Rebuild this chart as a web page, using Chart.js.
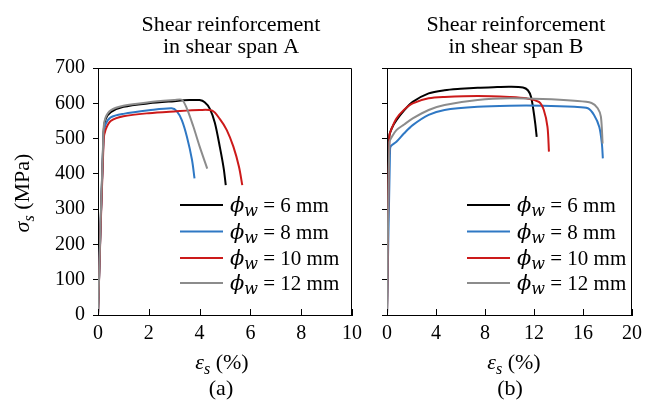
<!DOCTYPE html>
<html>
<head>
<meta charset="utf-8">
<script src="https://cdn.jsdelivr.net/npm/chart.js@4.4.1/dist/chart.umd.min.js"></script>
<style>
    html, body { margin: 0; padding: 0; background: #fff; }
    #wrapA { position: absolute; left: 0; top: 0; width: 370px; height: 413px; }
    #wrapB { position: absolute; left: 360px; top: 0; width: 289px; height: 413px; }
</style>
</head>
<body>
<div id="wrapA"><canvas id="chartA"></canvas></div>
<div id="wrapB"><canvas id="chartB"></canvas></div>
<script>
// Legend labels (bar diameter)
const diameters = ['6 mm', '8 mm', '10 mm', '12 mm'];
const lineColors = ['#000000', '#2f78c4', '#cc1a1a', '#8c8c8c'];

// Tick values
const stressTicks = [0, 100, 200, 300, 400, 500, 600, 700];
const strainTicksA = [0, 2, 4, 6, 8, 10];
const strainTicksB = [0, 4, 8, 12, 16, 20];

// Panel (a) - shear span A, strain (%) / stress (MPa)
const strainA6 = [0, 0.22, 0.3, 0.5, 1.0, 2.0, 3.0, 3.6, 4.0, 4.2, 4.4, 4.6, 4.8, 4.95, 5.03];
const stressA6 = [0, 520, 555, 575, 590, 600, 606, 609, 609, 603, 585, 545, 475, 415, 368];
const strainA8 = [0, 0.22, 0.3, 0.5, 1.0, 2.0, 2.9, 3.1, 3.3, 3.5, 3.7, 3.8];
const stressA8 = [0, 510, 540, 560, 570, 580, 586, 578, 552, 505, 440, 387];
const strainA10 = [0, 0.22, 0.3, 0.5, 1.0, 2.0, 3.0, 4.0, 4.5, 4.8, 5.07, 5.33, 5.55, 5.68];
const stressA10 = [0, 495, 525, 550, 563, 572, 577, 581, 579, 555, 524, 477, 420, 368];
const strainA12 = [0, 0.22, 0.3, 0.5, 1.0, 2.0, 3.0, 3.3, 3.5, 3.75, 4.0, 4.3];
const stressA12 = [0, 530, 560, 580, 593, 603, 609, 610, 585, 535, 478, 415];

// Panel (b) - shear span B
const strainB6 = [0, 0.18, 0.4, 0.77, 1.4, 2.1, 3.4, 4.7, 6, 7.4, 9, 10, 11.1, 11.5, 11.76, 11.95, 12.1, 12.22];
const stressB6 = [0, 505, 530, 552, 580, 604, 628, 637, 641, 644, 646, 647, 645, 637, 618, 581, 543, 505];
const strainB8 = [0, 0.25, 0.32, 0.77, 1.4, 2.1, 3.4, 4.7, 7.4, 10, 12.7, 15.3, 16.4, 16.9, 17.33, 17.54, 17.62];
const stressB8 = [0, 470, 479, 491, 515, 538, 567, 581, 590, 593, 593, 590, 586, 567, 533, 486, 444];
const strainB10 = [0, 0.2, 0.4, 0.77, 1.4, 2.1, 3.4, 4.7, 7.4, 10, 11.4, 12.4, 12.8, 13.1, 13.22];
const stressB10 = [0, 509, 530, 557, 582, 600, 614, 618, 621, 618, 614, 604, 581, 533, 463];
const strainB12 = [0, 0.2, 0.4, 0.77, 1.4, 2.1, 3.4, 4.7, 7.4, 10, 12.7, 15.3, 16.7, 17.2, 17.46, 17.6];
const stressB12 = [0, 490, 505, 524, 540, 557, 581, 595, 609, 614, 612, 607, 601, 586, 562, 486];

const SERIF = '"Liberation Serif", "Times New Roman", serif';
const MATH = '"DejaVu Serif", "Liberation Serif", serif';

function toPoints(xs, ys) {
    return xs.map((x, i) => ({ x: x, y: ys[i] }));
}

function makeDatasets(series) {
    return series.map((s, i) => ({
        label: diameters[i],
        data: toPoints(s[0], s[1]),
        borderColor: lineColors[i],
        borderWidth: 2,
        pointRadius: 0,
        showLine: true,
        tension: 0.3,
        fill: false,
        order: 3 - i
    }));
}

function partFont(p) {
    return (p.italic ? 'italic ' : '') + p.size + 'px ' + (p.family || SERIF);
}

// draws a run of text pieces (italic / subscript) starting at x
function richWidth(ctx, parts) {
    let w = 0;
    parts.forEach(p => {
        ctx.font = partFont(p);
        w += ctx.measureText(p.t).width;
    });
    return w;
}

function drawRich(ctx, x, y, parts) {
    ctx.textAlign = 'left';
    ctx.textBaseline = 'alphabetic';
    parts.forEach(p => {
        ctx.font = partFont(p);
        ctx.fillText(p.t, x, y + (p.dy || 0));
        x += ctx.measureText(p.t).width;
    });
}

// frame, inward x ticks, titles and legend
const panelDecor = {
    id: 'panelDecor',
    afterDatasetsDraw(chart, args, opts) {
        const ctx = chart.ctx;
        const area = chart.chartArea;
        const xScale = chart.scales.x;
        ctx.save();
        ctx.strokeStyle = '#000';
        ctx.lineWidth = 1;
        ctx.beginPath();
        ctx.moveTo(area.left, area.top + 0.5);
        ctx.lineTo(area.right - 0.5, area.top + 0.5);
        ctx.lineTo(area.right - 0.5, area.bottom);
        ctx.stroke();
        xScale.ticks.forEach(t => {
            const px = Math.round(xScale.getPixelForValue(t.value)) + 0.5;
            ctx.beginPath();
            ctx.moveTo(px, area.bottom);
            ctx.lineTo(px, area.bottom - 6);
            ctx.stroke();
        });

        ctx.fillStyle = '#000';
        ctx.textAlign = 'center';
        ctx.textBaseline = 'alphabetic';
        ctx.font = '22px ' + SERIF;
        ctx.fillText('Shear reinforcement', opts.titleX, 30.5);
        ctx.fillText(opts.titleLine2, opts.titleX, 53);

        const xTitle = [
            { t: 'ε', italic: true, size: 22 },
            { t: 's', italic: true, size: 16, dy: 5 },
            { t: ' (%)', size: 22 }
        ];
        drawRich(ctx, opts.xTitleX - richWidth(ctx, xTitle) / 2, 369, xTitle);
        ctx.textAlign = 'center';
        ctx.font = '22px ' + SERIF;
        ctx.fillText(opts.panel, opts.panelX, 395);

        if (opts.yTitle) {
            const yTitle = [
                { t: 'σ', italic: true, size: 22 },
                { t: 's', italic: true, size: 16, dy: 5 },
                { t: ' (MPa)', size: 22 }
            ];
            ctx.save();
            ctx.translate(29, 193);
            ctx.rotate(-Math.PI / 2);
            drawRich(ctx, -richWidth(ctx, yTitle) / 2, 0, yTitle);
            ctx.restore();
        }

        const rows = [205, 231.5, 258, 283];
        chart.data.datasets.forEach((ds, i) => {
            const y = rows[i];
            ctx.strokeStyle = ds.borderColor;
            ctx.lineWidth = 2;
            ctx.beginPath();
            ctx.moveTo(opts.legendX, y);
            ctx.lineTo(opts.legendX + 43, y);
            ctx.stroke();
            drawRich(ctx, opts.legendX + 50, y + 7, [
                { t: 'ϕ', italic: true, size: 21, family: MATH },
                { t: 'w', italic: true, size: 16, dy: 4, family: MATH },
                { t: ' = ' + ds.label, size: 21 }
            ]);
        });
        ctx.restore();
    }
};

function makeOptions(strainTicks, xMax, yLabels, yWidth, decor) {
    return {
        responsive: true,
        maintainAspectRatio: false,
        animation: false,
        layout: { padding: { top: 68, right: decor.padRight, left: 0, bottom: 0 } },
        plugins: {
            legend: { display: false },
            tooltip: { enabled: false },
            panelDecor: decor
        },
        scales: {
            x: {
                type: 'linear',
                min: 0,
                max: xMax,
                afterBuildTicks: s => { s.ticks = strainTicks.map(v => ({ value: v })); },
                afterFit: s => { s.height = 98; },
                grid: { display: false, drawTicks: false },
                border: { display: true, color: '#000', width: 1 },
                ticks: { color: '#000', padding: 7, font: { family: SERIF, size: 20 } }
            },
            y: {
                type: 'linear',
                min: 0,
                max: 700,
                afterBuildTicks: s => { s.ticks = stressTicks.map(v => ({ value: v })); },
                afterFit: s => { s.width = yWidth; },
                grid: { drawOnChartArea: false, drawTicks: true, tickLength: 5, color: '#000' },
                border: { display: true, color: '#000', width: 1 },
                ticks: { display: yLabels, color: '#000', padding: 8, font: { family: SERIF, size: 20 } }
            }
        }
    };
}

document.addEventListener('DOMContentLoaded', function() {
    new Chart(document.getElementById('chartA').getContext('2d'), {
        type: 'scatter',
        data: {
            datasets: makeDatasets([
                [strainA6, stressA6], [strainA8, stressA8], [strainA10, stressA10], [strainA12, stressA12]
            ])
        },
        options: makeOptions(strainTicksA, 10, true, 98, {
            padRight: 18, titleX: 231, titleLine2: 'in shear span A',
            xTitleX: 222, panelX: 221, panel: '(a)', yTitle: true, legendX: 180
        }),
        plugins: [panelDecor]
    });

    new Chart(document.getElementById('chartB').getContext('2d'), {
        type: 'scatter',
        data: {
            datasets: makeDatasets([
                [strainB6, stressB6], [strainB8, stressB8], [strainB10, stressB10], [strainB12, stressB12]
            ])
        },
        options: makeOptions(strainTicksB, 20, false, 27, {
            padRight: 11, titleX: 156, titleLine2: 'in shear span B',
            xTitleX: 154, panelX: 150, panel: '(b)', yTitle: false, legendX: 107
        }),
        plugins: [panelDecor]
    });
});
</script>
</body>
</html>
